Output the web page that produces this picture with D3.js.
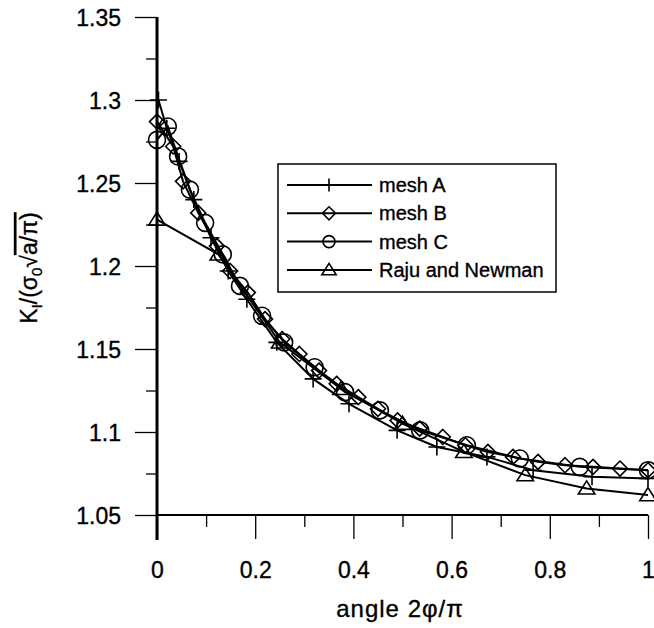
<!DOCTYPE html>
<html>
<head>
<meta charset="utf-8">
<script src="https://cdn.jsdelivr.net/npm/d3@7"></script>
<style>
  body { margin: 0; background: #fff; }
  text { font-family: "Liberation Sans", Arial, sans-serif; fill: #000; stroke: #000; stroke-width: 0.35px; }
</style>
</head>
<body>
<svg width="654" height="628"></svg>
<script>
const svg = d3.select('svg');

// data
const meshAx = [0.003, 0.02, 0.045, 0.075, 0.11, 0.145, 0.183, 0.244, 0.318, 0.391, 0.489, 0.57, 0.672, 0.766, 0.886, 1.0];
const meshAy = [1.300, 1.283, 1.263, 1.240, 1.217, 1.197, 1.180, 1.154, 1.132, 1.117, 1.101, 1.091, 1.085, 1.077, 1.073, 1.072];

const meshBx = [0, 0.033, 0.053, 0.084, 0.122, 0.149, 0.185, 0.22, 0.255, 0.29, 0.33, 0.366, 0.41, 0.45, 0.49, 0.535, 0.582, 0.628, 0.674, 0.725, 0.776, 0.831, 0.888, 0.943, 1.0];
const meshBy = [1.287, 1.272, 1.251, 1.232, 1.212, 1.197, 1.184, 1.168, 1.156, 1.147, 1.137, 1.129, 1.121, 1.114, 1.107, 1.102, 1.097, 1.092, 1.088, 1.085, 1.082, 1.080, 1.079, 1.078, 1.077];

const meshCx = [0, 0.022, 0.043, 0.067, 0.098, 0.134, 0.169, 0.214, 0.259, 0.321, 0.383, 0.454, 0.536, 0.631, 0.739, 0.861, 1.0];
const meshCy = [1.276, 1.284, 1.266, 1.246, 1.226, 1.207, 1.188, 1.170, 1.154, 1.139, 1.124, 1.113, 1.101, 1.092, 1.084, 1.079, 1.077];

const rajuX = [0, 0.125, 0.25, 0.375, 0.5, 0.625, 0.75, 0.875, 1.0];
const rajuY = [1.228, 1.207, 1.154, 1.126, 1.105, 1.088, 1.074, 1.066, 1.062];

const xMajor = [0, 0.2, 0.4, 0.6, 0.8, 1];
const xMinor = [0.1, 0.3, 0.5, 0.7, 0.9];
const yMajor = [1.05, 1.1, 1.15, 1.2, 1.25, 1.3, 1.35];
const yMinor = [1.075, 1.125, 1.175, 1.225, 1.275, 1.325];
const yLabels = ["1.05", "1.1", "1.15", "1.2", "1.25", "1.3", "1.35"];

const seriesNames = ["mesh A", "mesh B", "mesh C", "Raju and Newman"];

const x = d3.scaleLinear().domain([0, 1]).range([157, 648]);
const y = d3.scaleLinear().domain([1.05, 1.35]).range([515, 17]);

const zip = (xs, ys) => xs.map((v, i) => ({x: v, y: ys[i]}));
const series = [
  {name: seriesNames[0], sym: 'plus', data: zip(meshAx, meshAy)},
  {name: seriesNames[1], sym: 'diamond', data: zip(meshBx, meshBy)},
  {name: seriesNames[2], sym: 'circle', data: zip(meshCx, meshCy)},
  {name: seriesNames[3], sym: 'triangle', data: zip(rajuX, rajuY)}
];

let drawMarker = (g, sym, s) => {
  // s = half size
  if (sym === 'plus') {
    g.append('path').attr('d', `M${-s},0H${s}M0,${-s}V${s}`)
      .style('stroke', '#000').style('stroke-width', 1.6).style('fill', 'none');
  } else if (sym === 'diamond') {
    g.append('path').attr('d', `M0,${-s}L${s},0L0,${s}L${-s},0Z`)
      .style('stroke', '#000').style('stroke-width', 1.6).style('fill', 'none');
  } else if (sym === 'circle') {
    g.append('circle').attr('r', s)
      .style('stroke', '#000').style('stroke-width', 1.6).style('fill', 'none');
  } else {
    g.append('path').attr('d', `M0,${-s}L${s * 1.1},${s * 0.75}L${-s * 1.1},${s * 0.75}Z`)
      .style('stroke', '#000').style('stroke-width', 1.6).style('fill', 'none');
  }
}

// axes
let yAxisMajor = d3.axisLeft(y).tickValues(yMajor).tickSize(22).tickFormat((d, i) => yLabels[i]);
let yAxisMinor = d3.axisLeft(y).tickValues(yMinor).tickSize(11).tickFormat('');
let xAxisMajor = d3.axisBottom(x).tickValues(xMajor).tickSize(24).tickFormat(d3.format('~g'));
let xAxisMinor = d3.axisBottom(x).tickValues(xMinor).tickSize(12).tickFormat('');

svg.append('g').attr('transform', 'translate(0,515)').call(xAxisMinor)
  .call(g => g.select('.domain').remove());
let gx = svg.append('g').attr('transform', 'translate(0,515)').call(xAxisMajor);
gx.select('.domain').remove();
gx.selectAll('text').attr('dy', 0).attr('y', 63).style('font-size', '23px');

svg.append('g').attr('transform', 'translate(157,0)').call(yAxisMinor)
  .call(g => g.select('.domain').remove());
let gy = svg.append('g').attr('transform', 'translate(157,0)').call(yAxisMajor);
gy.select('.domain').remove();
gy.selectAll('text').attr('x', -36).attr('dy', '0.36em').style('font-size', '23px');

svg.selectAll('.tick line').style('stroke', '#000').style('stroke-width', 1.3);
svg.selectAll('.tick text').style('fill', '#000').style('font-family', '"Liberation Sans", Arial, sans-serif');

// axis lines
svg.append('line').attr('x1', x(0)).attr('x2', x(0)).attr('y1', y(1.35)).attr('y2', 540)
  .style('stroke', '#000').style('stroke-width', 3);
svg.append('line').attr('x1', x(0)).attr('x2', x(1)).attr('y1', y(1.05)).attr('y2', y(1.05))
  .style('stroke', '#000').style('stroke-width', 2);

// lines and markers
let line = d3.line().x(d => x(d.x)).y(d => y(d.y));
series.forEach(s => {
  svg.append('path').datum(s.data).attr('d', line)
    .style('fill', 'none').style('stroke', '#000').style('stroke-width', 2);
});
series.forEach(s => {
  let size = s.sym === 'circle' ? 8.5 : (s.sym === 'plus' ? 8.5 : 7.5);
  s.data.forEach(d => {
    let g = svg.append('g').attr('transform', `translate(${x(d.x)},${y(d.y)})`);
    drawMarker(g, s.sym, size);
  });
});

// legend
let legend = svg.append('g').attr('transform', 'translate(278,164)');
legend.append('rect').attr('width', 278).attr('height', 128)
  .style('fill', '#fff').style('stroke', '#000').style('stroke-width', 1.5);
series.forEach((s, i) => {
  let ly = 21 + i * 28.3;
  legend.append('line').attr('x1', 9).attr('x2', 94).attr('y1', ly).attr('y2', ly)
    .style('stroke', '#000').style('stroke-width', 2);
  let g = legend.append('g').attr('transform', `translate(51,${ly})`);
  drawMarker(g, s.sym, s.sym === 'circle' ? 6 : 6.5);
  legend.append('text').attr('x', 101).attr('y', ly + 7).style('font-size', '20px')
    .text(s.name);
});

// axis titles
svg.append('text').attr('x', 400).attr('y', 617).attr('text-anchor', 'middle')
  .style('font-size', '24px').style('letter-spacing', '1px').text('angle 2\u03c6/\u03c0');

let yt = svg.append('text').attr('transform', 'translate(37,268) rotate(-90)')
  .attr('text-anchor', 'middle').style('font-size', '23px');
yt.append('tspan').text('K');
yt.append('tspan').attr('dy', 5).style('font-size', '15px').text('I');
yt.append('tspan').attr('dy', -5).text('/(\u03c3');
yt.append('tspan').attr('dy', 5).style('font-size', '15px').text('0');
yt.append('tspan').attr('dy', -5).text('\u221a');
yt.append('tspan').style('text-decoration', 'overline').text('a/\u03c0)');
</script>
</body>
</html>
